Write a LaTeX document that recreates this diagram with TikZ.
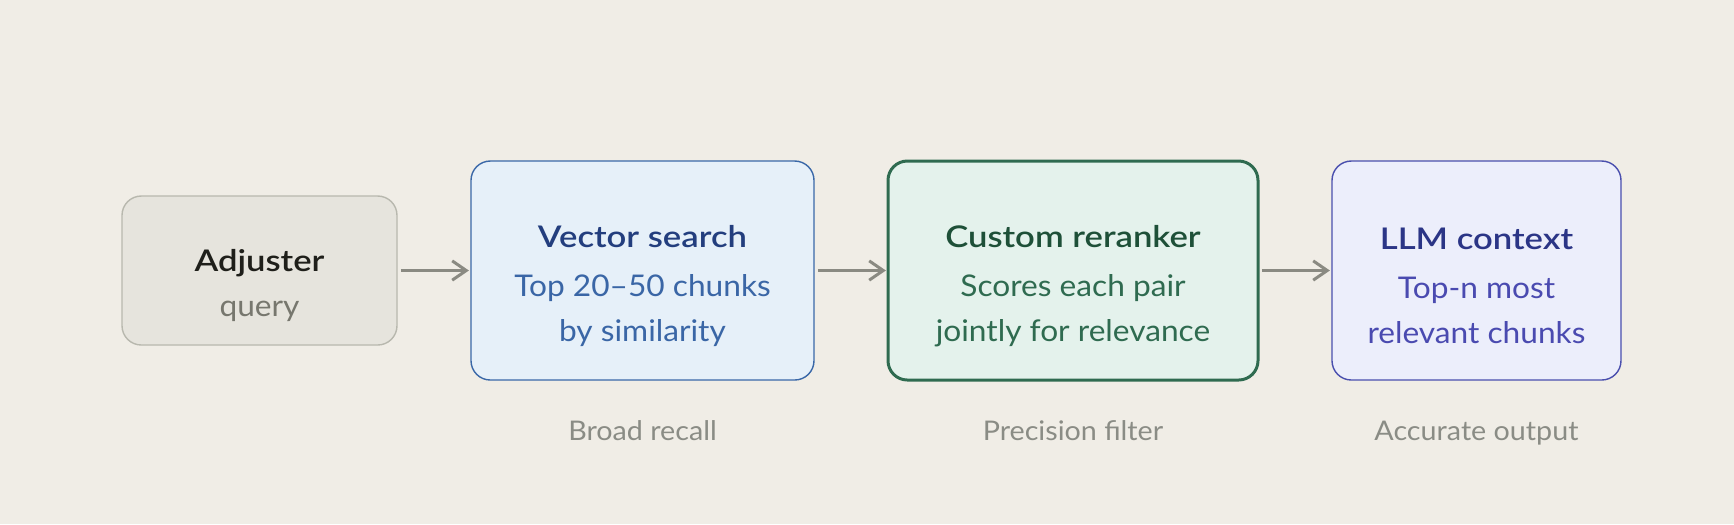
\documentclass[tikz,border=0pt]{standalone}
\usepackage{fontspec}
\setmainfont{Lato}[UprightFeatures={FakeStretch=1.06},
  BoldFont={Lato Semibold}, BoldFeatures={FakeStretch=1.16}]
\usetikzlibrary{positioning,arrows.meta}

\definecolor{paper}{HTML}{F0EDE6}
\definecolor{arrowgrey}{HTML}{8A8A82}
\definecolor{notegrey}{HTML}{8A8C85}
\definecolor{adjfill}{HTML}{E6E4DD}
\definecolor{adjline}{HTML}{B8B8AE}
\definecolor{adjtitle}{HTML}{1F1F1A}
\definecolor{adjsub}{HTML}{77776E}
\definecolor{vecfill}{HTML}{E6F0F9}
\definecolor{vecline}{HTML}{3A68A8}
\definecolor{vectitle}{HTML}{233E7E}
\definecolor{vecsub}{HTML}{3A66A6}
\definecolor{rerfill}{HTML}{E4F2EC}
\definecolor{rerline}{HTML}{2F6B50}
\definecolor{rertitle}{HTML}{1E5038}
\definecolor{rersub}{HTML}{2F6B50}
\definecolor{llmfill}{HTML}{ECEEFB}
\definecolor{llmline}{HTML}{4A4FAE}
\definecolor{llmtitle}{HTML}{2B3586}
\definecolor{llmsub}{HTML}{4A4AB0}

% push the text block a little below the box centre
\newcommand{\toppad}{\rule{0pt}{15pt}}

\tikzset{
  stage/.style={draw, rounded corners=5.5pt, align=center, outer sep=0pt,
    minimum height=2.19cm, line width=0.4pt,
    font=\fontsize{8.5}{12.8}\selectfont},
  flow/.style={-{Straight Barb[length=4pt,width=5.5pt]}, line width=0.85pt,
    draw=arrowgrey, shorten <=1.1pt, shorten >=0.6pt},
  note/.style={inner sep=0pt, text=notegrey,
    font=\fontsize{7.7}{9}\selectfont},
}

\begin{document}
\begin{tikzpicture}
  \fill[paper] (0,0) rectangle (17.34,-5.24);
  \useasboundingbox (0,0) rectangle (17.34,-5.24);

  \node [stage, fill=adjfill, draw=adjline, minimum width=2.75cm,
    minimum height=1.49cm] (adj) at (2.595,-2.705)
    {\toppad\textcolor{adjtitle}{\bfseries Adjuster}\\
     \textcolor{adjsub}{query}};
  \node [stage, fill=vecfill, draw=vecline, minimum width=3.43cm,
    right=0.74cm of adj] (vec)
    {\toppad\textcolor{vectitle}{\bfseries Vector search}\\[1.1pt]
     \textcolor{vecsub}{Top 20--50 chunks}\\
     \textcolor{vecsub}{by similarity}};
  \node [stage, fill=rerfill, draw=rerline, line width=0.85pt,
    minimum width=3.70cm, right=0.74cm of vec] (rer)
    {\toppad\textcolor{rertitle}{\bfseries Custom reranker}\\[1.1pt]
     \textcolor{rersub}{Scores each pair}\\
     \textcolor{rersub}{jointly for relevance}};
  \node [stage, fill=llmfill, draw=llmline, minimum width=2.89cm,
    right=0.74cm of rer] (llm)
    {\toppad\textcolor{llmtitle}{\bfseries LLM context}\\[1.1pt]
     \textcolor{llmsub}{Top-n most}\\
     \textcolor{llmsub}{relevant chunks}};

  \draw[flow] (adj) -- (vec);
  \draw[flow] (vec) -- (rer);
  \draw[flow] (rer) -- (llm);

  \node [note, below=0.4cm of vec] (recall) {Broad recall};
  \node [note, below=0.4cm of rer] (filter) {Precision filter};
  \node [note, below=0.4cm of llm] (output) {Accurate output};
\end{tikzpicture}
\end{document}
